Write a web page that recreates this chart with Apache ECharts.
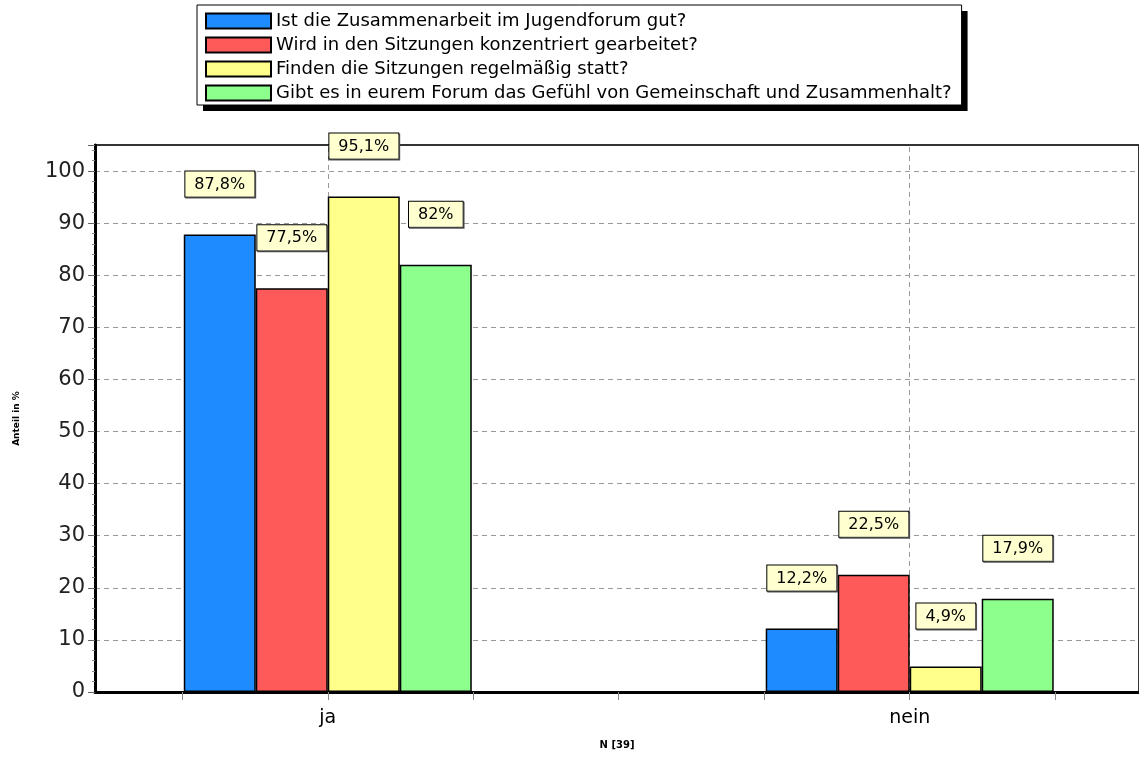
<!DOCTYPE html>
<html>
<head>
<meta charset="utf-8">
<script src="https://cdn.jsdelivr.net/npm/echarts@6/dist/echarts.min.js"></script>
<style>html,body{margin:0;padding:0;background:#fff}#c{width:1139px;height:758px}</style>
</head>
<body>
<div id="c"></div>
<script>
var categories = ['ja', 'nein'];
var seriesNames = [
  'Ist die Zusammenarbeit im Jugendforum gut?',
  'Wird in den Sitzungen konzentriert gearbeitet?',
  'Finden die Sitzungen regelmäßig statt?',
  'Gibt es in eurem Forum das Gefühl von Gemeinschaft und Zusammenhalt?'
];
var zusammenarbeit = [87.8, 12.2];
var konzentriert = [77.5, 22.5];
var regelmaessig = [95.1, 4.9];
var gemeinschaft = [82, 17.9];
var yTicks = [0, 10, 20, 30, 40, 50, 60, 70, 80, 90, 100];
var xTickPositions = [-0.25, 0, 0.25, 0.5, 0.75, 1, 1.25];
var colors = ['#1E8CFF', '#FF5A5A', '#FFFF8A', '#8CFF8C'];

var allValues = [zusammenarbeit, konzentriert, regelmaessig, gemeinschaft];
var font = 'DejaVu Sans, Verdana, sans-serif';
var gridDash = { color: '#999', type: [5, 4], width: 1 };

var series = allValues.map(function (vals, si) {
  return {
    name: seriesNames[si],
    type: 'bar',
    barWidth: 72,
    barGap: '0%',
    data: vals.map(function (v, i) { return [i, v]; }),
    itemStyle: { color: colors[si], borderColor: '#000', borderWidth: 1.5 },
    label: {
      show: true,
      position: 'top',
      distance: 38,
      formatter: function (p) { return String(p.value[1]).replace('.', ',') + '%'; },
      fontFamily: font,
      fontSize: 16,
      color: '#000',
      backgroundColor: '#FFFFD0',
      borderColor: '#000',
      borderWidth: 1,
      padding: [5, 9, 4, 9],
      shadowColor: '#555',
      shadowOffsetX: 1,
      shadowOffsetY: 1,
      shadowBlur: 0
    }
  };
});
// vertical dashed grid lines at the category centres
series.push({
  name: 'grid-v',
  type: 'line',
  data: [],
  silent: true,
  markLine: {
    silent: true,
    z: 1,
    symbol: ['none', 'none'],
    label: { show: false },
    lineStyle: gridDash,
    data: categories.map(function (c, i) { return { xAxis: i }; })
  }
});

var legendBase = {
  orient: 'vertical',
  padding: [7, 10, 3, 8],
  itemWidth: 65,
  itemHeight: 15,
  itemGap: 6,
  icon: 'rect',
  selectedMode: false,
  data: seriesNames
};

var chart = echarts.init(document.getElementById('c'), null, { renderer: 'canvas' });
chart.setOption({
  animation: false,
  backgroundColor: '#fff',
  color: colors,
  legend: [
    Object.assign({}, legendBase, {
      left: 203, top: 11, z: 3,
      backgroundColor: '#000',
      borderWidth: 0,
      itemStyle: { color: '#000', borderColor: '#000' },
      textStyle: { fontFamily: font, fontSize: 18, lineHeight: 16, color: '#000' }
    }),
    Object.assign({}, legendBase, {
      left: 197, top: 5, z: 4,
      backgroundColor: '#fff',
      borderColor: '#000',
      borderWidth: 1,
      textStyle: { fontFamily: font, fontSize: 18, lineHeight: 16, color: '#000' }
    })
  ],
  grid: {
    left: 95, right: -3, top: 145, bottom: 66,
    show: true, borderColor: '#333', borderWidth: 2, backgroundColor: 'transparent'
  },
  xAxis: {
    type: 'value',
    min: -0.4,
    max: 1.394,
    name: 'N [39]',
    nameLocation: 'middle',
    nameGap: 48,
    nameTextStyle: { fontFamily: font, fontSize: 10, fontWeight: 'bold', color: '#000' },
    axisLine: { show: true, onZero: false, lineStyle: { color: '#000', width: 3 } },
    axisTick: { show: true, length: 8, customValues: xTickPositions, lineStyle: { color: '#888', width: 1 } },
    axisLabel: {
      customValues: [0, 1],
      formatter: function (v) { return categories[Math.round(v)] || ''; },
      fontFamily: font, fontSize: 19, color: '#000', margin: 17
    },
    splitLine: { show: false }
  },
  yAxis: {
    type: 'value',
    min: 0,
    max: 105,
    interval: 10,
    name: 'Anteil in %',
    nameLocation: 'middle',
    nameRotate: 90,
    nameGap: 74,
    nameTextStyle: { fontFamily: font, fontSize: 9, fontWeight: 'bold', color: '#000' },
    axisLine: { show: true, onZero: false, lineStyle: { color: '#000', width: 3 } },
    axisTick: { show: true, length: 7, lineStyle: { color: '#666' } },
    minorTick: { show: true, splitNumber: 5, length: 3, lineStyle: { color: '#888' } },
    axisLabel: {
      customValues: yTicks,
      fontFamily: font, fontSize: 21, color: '#222', margin: 10
    },
    splitLine: { show: true, showMaxLine: false, lineStyle: gridDash }
  },
  series: series
});
</script>
</body>
</html>
